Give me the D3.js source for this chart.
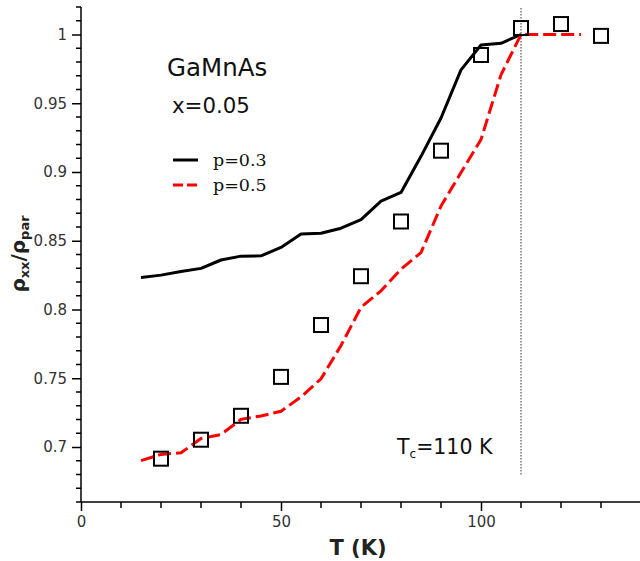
<!DOCTYPE html>
<html>
<head>
<meta charset="utf-8">
<script src="https://cdn.jsdelivr.net/npm/d3@7"></script>
<style>
  body { margin: 0; background: #fff; }
  svg { display: block; font-family: "DejaVu Sans", sans-serif; }
</style>
</head>
<body>
<svg id="chart" width="640" height="561"></svg>
<script>
// p=0.3 curve (solid black)
const tempP3 = [15, 20, 25, 30, 35, 40, 45, 50, 55, 60, 65, 70, 75, 80, 85, 90, 95, 100, 105, 110];
const rhoP3 = [0.8233, 0.825, 0.8277, 0.8299, 0.836, 0.8388, 0.839, 0.8451, 0.8549, 0.8554,
               0.8591, 0.8654, 0.8788, 0.8851, 0.9114, 0.9393, 0.9743, 0.9924, 0.9936, 1.0];

// p=0.5 curve (red dashed)
const tempP5 = [15, 20, 25, 30, 35, 40, 45, 50, 55, 60, 65, 70, 75, 80, 85, 90, 95, 100, 105, 110, 115, 120, 125];
const rhoP5 = [0.6901, 0.6946, 0.6958, 0.7062, 0.7091, 0.7201, 0.7226, 0.726, 0.7364, 0.7496,
               0.7738, 0.8016, 0.8136, 0.8293, 0.8414, 0.8752, 0.8996, 0.9236, 0.9707, 1.0, 1.0, 1.0, 1.0];

// experimental points (open squares)
const tempExp = [20, 30, 40, 50, 60, 70, 80, 90, 100, 110, 120, 130];
const rhoExp = [0.6915, 0.7053, 0.7227, 0.751, 0.7887, 0.8242, 0.864, 0.9155, 0.9851, 1.0047, 1.0076, 0.999];

const xMajor = [0, 50, 100];
const yMajor = [0.7, 0.75, 0.8, 0.85, 0.9, 0.95, 1];
const tc = 110;

const svg = d3.select('#chart');
const x = d3.scaleLinear().domain([0, 140]).range([81, 641]);
const y = d3.scaleLinear().domain([0.66, 1.02]).range([502, 7]);

// minor ticks
const xMinor = d3.range(0, 141, 10).filter(v => !xMajor.includes(v));
const yMinor = d3.range(66, 103).map(v => v / 100).filter(v => !yMajor.some(m => Math.abs(m - v) < 1e-6));

const gx = svg.append('g').attr('transform', 'translate(0,502)');
gx.call(d3.axisBottom(x).tickValues(xMajor).tickSize(9).tickPadding(5).tickFormat(d3.format('d')));
gx.call(g => g.select('.domain').remove());
gx.append('g').selectAll('line').data(xMinor).join('line')
  .attr('x1', d => x(d)).attr('x2', d => x(d)).attr('y1', 0).attr('y2', 6)
  .attr('stroke', '#000').attr('stroke-width', 1.5);
gx.append('line').attr('x1', 81).attr('x2', 640).attr('stroke', '#000').attr('stroke-width', 1.5);

const gy = svg.append('g').attr('transform', 'translate(81,0)');
gy.call(d3.axisLeft(y).tickValues(yMajor).tickSize(9).tickPadding(5).tickFormat(d => d3.format('')(+d.toFixed(2))));
gy.call(g => g.select('.domain').remove());
gy.append('g').selectAll('line').data(yMinor).join('line')
  .attr('y1', d => y(d)).attr('y2', d => y(d)).attr('x1', 0).attr('x2', -5)
  .attr('stroke', '#000').attr('stroke-width', 1.5);
gy.append('line').attr('y1', 7).attr('y2', 502).attr('stroke', '#000').attr('stroke-width', 1.5);

svg.selectAll('.tick line').attr('stroke-width', 1.5);
svg.selectAll('.tick text').attr('font-size', 15).attr('fill', '#333')
  .attr('font-family', '"DejaVu Sans", sans-serif');

// Tc marker
svg.append('line')
  .attr('x1', x(tc)).attr('x2', x(tc)).attr('y1', 8).attr('y2', y(0.68))
  .attr('stroke', '#333').attr('stroke-width', 1).attr('stroke-dasharray', '1.5,1.5');

const line = d3.line().x(d => x(d[0])).y(d => y(d[1]));

svg.append('path')
  .datum(d3.zip(tempP3, rhoP3))
  .attr('d', line).attr('fill', 'none').attr('stroke', '#000').attr('stroke-width', 3)
  .attr('stroke-linejoin', 'round');

svg.append('path')
  .datum(d3.zip(tempP5, rhoP5))
  .attr('d', line).attr('fill', 'none').attr('stroke', '#ff0000').attr('stroke-width', 3)
  .attr('stroke-dasharray', '13,5');

const sq = 14;
svg.append('g').selectAll('rect').data(d3.zip(tempExp, rhoExp)).join('rect')
  .attr('x', d => x(d[0]) - sq / 2).attr('y', d => y(d[1]) - sq / 2)
  .attr('width', sq).attr('height', sq)
  .attr('fill', 'none').attr('stroke', '#000').attr('stroke-width', 2);

// annotations
svg.append('text').attr('x', 167).attr('y', 76).attr('font-size', 24.5).attr('fill', '#111').text('GaMnAs');
svg.append('text').attr('x', 172).attr('y', 113).attr('font-size', 21.3).attr('fill', '#111').text('x=0.05');

const tcText = svg.append('text').attr('x', 397).attr('y', 454).attr('font-size', 20.5).attr('fill', '#111');
tcText.append('tspan').text('T');
tcText.append('tspan').attr('font-size', 12).attr('dy', 4).text('c');
tcText.append('tspan').attr('dy', -4).text('=110 K');

// legend
const legend = [
  { label: 'p=0.3', color: '#000', dash: null, yPos: 160 },
  { label: 'p=0.5', color: '#ff0000', dash: '10,4', yPos: 185 }
];
legend.forEach(l => {
  svg.append('line').attr('x1', 173).attr('x2', 198).attr('y1', l.yPos).attr('y2', l.yPos)
    .attr('stroke', l.color).attr('stroke-width', 3).attr('stroke-dasharray', l.dash);
  svg.append('text').attr('x', 213).attr('y', l.yPos + 6).attr('font-size', 17.5)
    .attr('font-family', '"DejaVu Serif", serif').attr('fill', '#111').text(l.label);
});

// axis titles
svg.append('text').attr('x', 358).attr('y', 555).attr('text-anchor', 'middle')
  .attr('font-size', 21).attr('font-weight', 'bold').attr('fill', '#222').text('T (K)');

const yTitle = svg.append('text').attr('transform', 'translate(25,254) rotate(-90)')
  .attr('text-anchor', 'middle').attr('font-size', 20).attr('font-weight', 'bold').attr('fill', '#222');
yTitle.append('tspan').text('ρ');
yTitle.append('tspan').attr('font-size', 13).attr('dy', 4).text('xx');
yTitle.append('tspan').attr('dy', -4).text('/ρ');
yTitle.append('tspan').attr('font-size', 13).attr('dy', 4).text('par');
</script>
</body>
</html>
